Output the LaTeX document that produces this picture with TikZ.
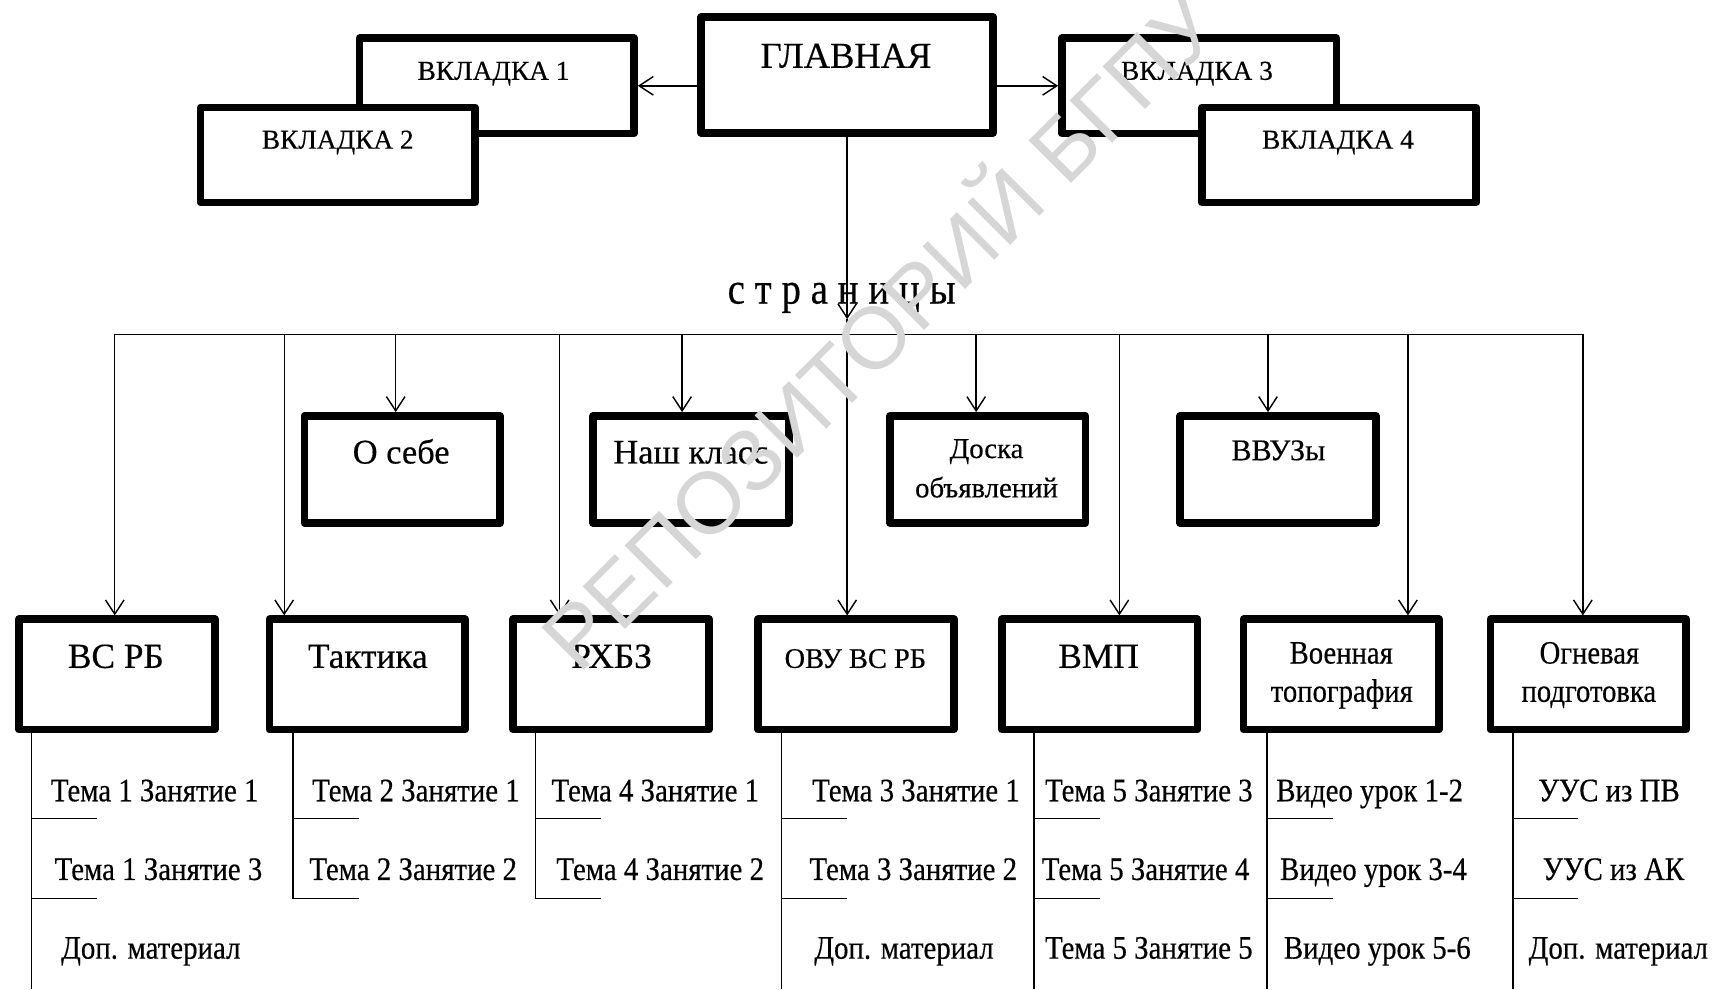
\documentclass[tikz,border=0pt]{standalone}
\usepackage{fontspec}
\setmainfont{Liberation Serif}[FakeStretch=0.88,FakeBold=0.4]
\newfontfamily\wide{Liberation Serif}[FakeBold=0.4]
\newfontfamily\wmfont{Liberation Sans}
\usetikzlibrary{arrows.meta}

\begin{document}
\begin{tikzpicture}[x=1pt,y=-1pt,
	box/.style={draw,line width=7pt,line join=round,fill=white,inner sep=0pt},
	tabbox/.style={box,minimum width=251pt,minimum height=87pt},
	midbox/.style={box,minimum width=179pt,minimum height=98pt},
	botbox/.style={box,minimum width=179pt,minimum height=101pt},
	lbl/.style={inner sep=0pt,anchor=base},
	itemf/.style={font=\fontsize{30}{36}\selectfont},
	glavf/.style={font=\wide\fontsize{33.4}{40}\selectfont},
	tabf/.style={font=\wide\fontsize{25}{30}\selectfont},
	big/.style={font=\wide\fontsize{31.5}{36}\selectfont},
	botf/.style={font=\wide\fontsize{32.3}{36}\selectfont},
	midf/.style={font=\wide\fontsize{26.3}{30}\selectfont},
	twof/.style={font=\fontsize{29.8}{34}\selectfont},
	ln/.style={line width=1.3pt},
	arr/.style={ln,-{Straight Barb[length=13pt,width=17pt,line width=1.3pt]}},
	wm/.style={font=\wmfont\fontsize{80}{90}\selectfont,text=black!16,rotate=45,inner sep=0pt}]
	\useasboundingbox (0,0) rectangle (1568,905);

	\node[box,minimum width=267pt,minimum height=106pt] (glav) at (775,68.5) {};
	\node[lbl,glavf] (glav-t) at (774,62) {ГЛАВНАЯ};
	\node[tabbox] (tab1) at (454.5,78.5) {};
	\node[lbl,tabf] (tab1-t) at (451.5,73) {ВКЛАДКА 1};
	\node[tabbox] (tab2) at (309,141.75) {};
	\node[lbl,tabf] (tab2-t) at (309,136) {ВКЛАДКА 2};
	\node[tabbox] (tab3) at (1097,78.5) {};
	\node[lbl,tabf] (tab3-t) at (1095,73) {ВКЛАДКА 3};
	\node[tabbox] (tab4) at (1225,141.75) {};
	\node[lbl,tabf] (tab4-t) at (1224,136) {ВКЛАДКА 4};
	\draw[arr] (glav.west |- tab1) -- (tab1.east);
	\draw[arr] (glav.east |- tab3) -- (tab3.west);

	\node[lbl,font=\fontsize{40.5}{48}\selectfont] (pages) at (770,277.7) {с т р а н и ц ы};
	\foreach \i/\x in {1/105,2/260,3/362,4/512,5/624,6/775,7/893,8/1024,9/1160,10/1288,11/1448}
		\coordinate (b\i) at (\x,306);
	\coordinate (tip) at (775,292);
	\draw[arr] (glav.south) -- (tip);
	\draw[ln] (tip) -- (b6);
	\draw[ln] (b1) -- (b11);

	\foreach \n/\x in {about/368,class/632,board/903.5,vuz/1169}
		\node[midbox] (\n) at (\x,429.5) {};
	\foreach \n/\x in {vs/107,takt/336,rhbz/559,ovu/783,vmp/1006,topo/1227,fire/1453}
		\node[botbox] (\n) at (\x,617) {};
	\foreach \b/\n in {1/vs,2/takt,3/about,4/rhbz,5/class,6/ovu,7/board,8/vmp,9/vuz,10/topo,11/fire}
		\draw[arr] (b\b) -- (b\b |- \n.north);

	\node[lbl,big] (about-t) at (367,424) {О себе};
	\node[lbl,big] (class-t) at (632,424) {Наш класс};
	\node[lbl,midf] (board-t1) at (902.5,419) {Доска};
	\node[lbl,midf] (board-t2) at (902.5,455) {объявлений};
	\node[lbl,midf,font=\wide\fontsize{27.5}{30}\selectfont] (vuz-t) at (1169.5,421) {ВВУЗы};
	\node[lbl,botf] (vs-t) at (106,611) {ВС РБ};
	\node[lbl,botf] (takt-t) at (336.5,611) {Тактика};
	\node[lbl,botf] (rhbz-t) at (559.5,611) {РХБЗ};
	\node[lbl,font=\wide\fontsize{26}{32}\selectfont] (ovu-t) at (782.5,611) {ОВУ ВС РБ};
	\node[lbl,botf] (vmp-t) at (1005,611) {ВМП};
	\node[lbl,twof] (topo-t1) at (1227,607) {Военная};
	\node[lbl,twof] (topo-t2) at (1227.5,642) {топография};
	\node[lbl,twof] (fire-t1) at (1454,607) {Огневая};
	\node[lbl,twof] (fire-t2) at (1453.5,642) {подготовка};

	\foreach \n/\x/\e in {vs/29/905,takt/268/822,rhbz/490/822,ovu/715/905,vmp/946/905,topo/1159/905,fire/1384/905}{
		\draw[ln] (\n.south -| \x,0) -- (\x,\e);
		\draw[ln] (\x,749) -- ++(60,0);
		\draw[ln] (\x,822) -- ++(60,0);
	}
	\foreach \n/\x/\y/\t in {vs1/141.5/733/Тема 1 Занятие 1,vs2/145/805/Тема 1 Занятие 3,vs3/138/877/Доп. материал,
		takt1/380.5/733/Тема 2 Занятие 1,takt2/378/805/Тема 2 Занятие 2,
		rhbz1/599.5/733/Тема 4 Занятие 1,rhbz2/604/805/Тема 4 Занятие 2,
		ovu1/838/733/Тема 3 Занятие 1,ovu2/835.5/805/Тема 3 Занятие 2,ovu3/827/877/Доп. материал,
		vmp1/1051/733/Тема 5 Занятие 3,vmp2/1048/805/Тема 5 Занятие 4,vmp3/1051/877/Тема 5 Занятие 5,
		topo1/1253/733/Видео урок 1-2,topo2/1256.5/805/Видео урок 3-4,topo3/1260/877/Видео урок 5-6,
		fire1/1472/733/УУС из ПВ,fire2/1476/805/УУС из АК,fire3/1480.5/877/Доп. материал}
		\node[lbl,itemf] (\n) at (\x,\y) {\t};

	\node[wm] (wm) at (800,298) {РЕПОЗИТОРИЙ БГПУ};
\end{tikzpicture}
\end{document}
